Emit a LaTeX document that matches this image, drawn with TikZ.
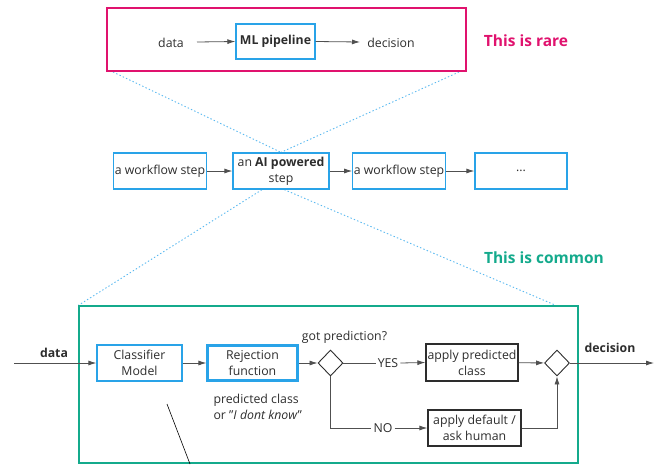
\documentclass[tikz,border=0pt]{standalone}
\usepackage{fontspec}
\setmainfont{Open Sans}
\usetikzlibrary{arrows.meta,shapes.geometric,backgrounds}
\definecolor{blueb}{RGB}{41,163,232}
\definecolor{dotblue}{RGB}{90,185,240}
\definecolor{pinkc}{RGB}{224,18,110}
\definecolor{tealc}{RGB}{20,170,140}
\definecolor{txt}{RGB}{45,45,45}
\definecolor{conn}{RGB}{80,80,80}
\tikzset{
  every node/.style={font=\fontsize{12.3}{16}\selectfont, text=txt},
  bluebox/.style={draw=blueb, line width=1.3pt, fill=white, minimum height=36pt, inner sep=1pt, align=center},
  darkbox/.style={draw=txt, line width=1.3pt, fill=white, minimum height=36pt, inner sep=1pt, align=center},
  conn/.style={draw=conn, line width=0.8pt},
  arr/.style={conn, -{Latex[length=8pt,width=5pt]}},
  dots/.style={draw=dotblue, line width=0.9pt, dash pattern=on 1.4pt off 2.2pt},
  dec/.style={diamond, draw=txt, line width=0.9pt, fill=white, minimum width=25pt, minimum height=26pt, inner sep=0pt},
  lbl/.style={inner sep=2pt, fill=white},
  bld/.style={font=\fontsize{12.3}{16}\selectfont\bfseries},
  big/.style={font=\fontsize{15.5}{18}\selectfont\bfseries},
}
\begin{document}
\begin{tikzpicture}[x=1pt,y=-1pt]
\useasboundingbox (0,0) rectangle (662,464);
% top frame
\node[draw=pinkc, line width=1.3pt, minimum width=359pt, minimum height=63pt, inner sep=0pt] (rare) at (286.5,39.5) {};
\node (d0) at (171,43) {data};
\node[bluebox, minimum width=79pt, minimum height=35pt] (ml) at (275.5,41.5) {\textbf{ML pipeline}};
\node (dec0) at (391,43) {decision};
\node[text=pinkc, big] (rarelbl) at (526,41) {This is rare};
\coordinate (d0a) at (197,42);
\coordinate (dec0a) at (360,42);
\draw[arr] (d0a) -- (ml.west);
\draw[arr] (ml.east) -- (dec0a);
% middle row
\node[bluebox, minimum width=92pt] (w1) at (160,171) {a workflow step};
\node[bluebox, minimum width=96pt] (ai) at (281,171) {an \textbf{AI powered}\\step};
\node[bluebox, minimum width=92pt] (w3) at (399,171) {a workflow step};
\node[bluebox, minimum width=92pt] (w4) at (521,171) {...};
\draw[arr] (w1) -- (ai);
\draw[arr] (ai) -- (w3);
\draw[arr] (w3) -- (w4);
% common frame
\node[draw=tealc, line width=1.3pt, minimum width=499pt, minimum height=157pt, inner sep=0pt] (common) at (328.5,384.5) {};
\node[text=tealc, big] (comlbl) at (544,258) {This is common};
\coordinate (tl) at (113,72);
\coordinate (tr) at (459,72);
\coordinate (aic) at (271,184);
\coordinate (br) at (555,305);
\begin{scope}[on background layer]
\draw[dots] (tl) -- (ai.north);
\draw[dots] (tr) -- (ai.north);
\draw[dots] (aic) -- (common.north west);
\draw[dots] (aic) -- (br);
\end{scope}
% bottom flow
\coordinate (in) at (14,363);
\node[bld] (dlbl) at (54,353) {data};
\node[bluebox, minimum width=85pt] (clf) at (139.5,363) {Classifier\\Model};
\node[bluebox, line width=2.2pt, minimum width=90pt, minimum height=35pt] (rej) at (252.5,363) {Rejection\\function};
\node[anchor=west, align=left, text=txt] (pred) at (210,406.5) {predicted class\\or "\textit{I dont know}"};
\coordinate (pa) at (167,404);
\coordinate (pb) at (190,464);
\draw[line width=0.6pt] (pa) -- (pb);
\node[dec] (q1) at (330.5,363) {};
\node (gotp) at (344.5,337) {got prediction?};
\node[lbl] (yes) at (388,363) {YES};
\node[darkbox, minimum width=92pt, minimum height=37pt] (yesbox) at (472,362.5) {apply predicted\\class};
\node[dec] (q2) at (557,363) {};
\node[bld] (declbl) at (610,348) {decision};
\coordinate (out) at (654,363);
\node[lbl] (no) at (383,428) {NO};
\node[darkbox, minimum width=93pt] (nobox) at (474.5,428) {apply default /\\ask human};
\draw[arr] (in) -- (clf.west);
\draw[arr] (clf) -- (rej);
\draw[arr] (rej) -- (q1);
\draw[conn] (q1.east) -- (yes.west);
\draw[arr] (yes.east) -- (yesbox.west);
\draw[arr] (yesbox) -- (q2);
\draw[arr] (q2.east) -- (out);
\draw[conn] (q1.south) |- (no.west);
\draw[arr] (no.east) -- (nobox.west);
\draw[arr] (nobox.east) -| (q2.south);
\end{tikzpicture}
\end{document}
